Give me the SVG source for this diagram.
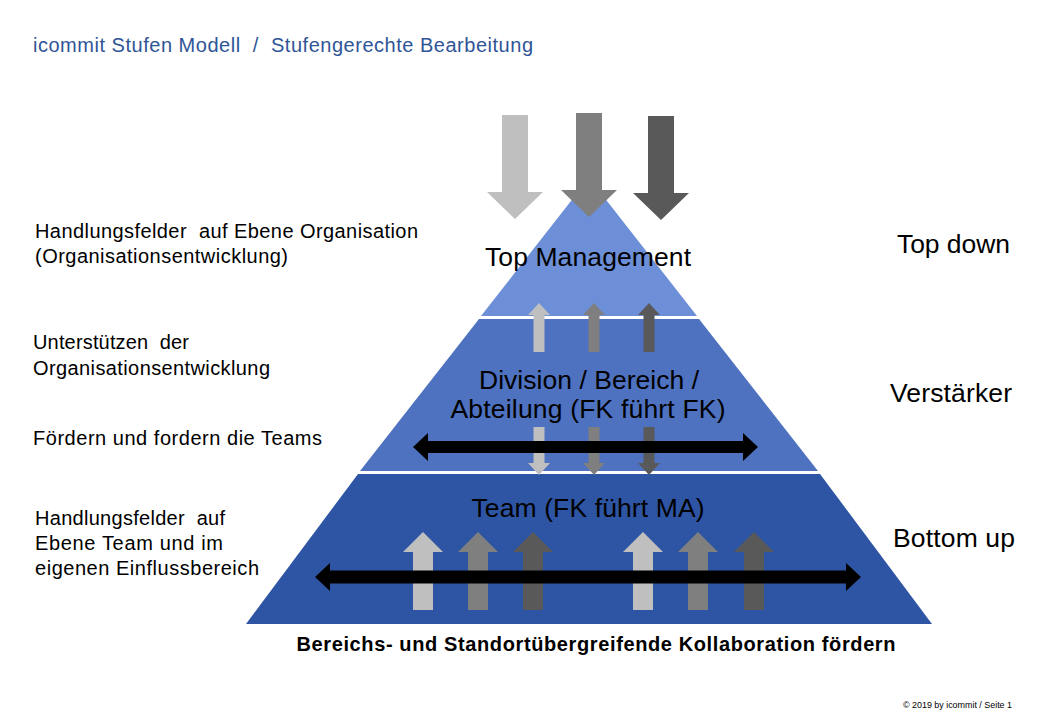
<svg xmlns="http://www.w3.org/2000/svg" width="1040" height="720" viewBox="0 0 1040 720">
<style>
text{font-family:"Liberation Sans",Arial,sans-serif;fill:#000}
.title{font-size:20px;fill:#2F5597}
.side{font-size:20px}
.right{font-size:26.5px}
.lvl{font-size:26.5px;text-anchor:middle}
.bold{font-size:20px;font-weight:bold;text-anchor:middle}
.copy{font-size:9.5px}
.g1{fill:#BFBFBF}.g2{fill:#7F7F7F}.g3{fill:#595959}
.dbl{fill:#000}
</style>
<defs>
<path id="bigDown" d="M-13,0 H13 V77 H28 L0,104 L-28,77 H-13 Z"/>
<path id="smallUp" d="M-5.5,49 V12 H-11 L0,0 L11,12 H5.5 V49 Z"/>
<path id="smallDown" d="M-5.5,0 V36 H-11 L0,48 L11,36 H5.5 V0 Z"/>
<path id="bigUp" d="M-10,78 V20 H-20 L0,0 L20,20 H10 V78 Z"/>
</defs>
<rect width="1040" height="720" fill="#fff"/>
<text class="title" x="33" y="52" textLength="500" lengthAdjust="spacing" xml:space="preserve">icommit Stufen Modell  /  Stufengerechte Bearbeitung</text>

<g id="level-top">
<polygon points="589,178 697,316 481,316" fill="#6C8FD7"/>
<text class="lvl" x="588" y="266" textLength="206" lengthAdjust="spacing">Top Management</text>
</g>
<g id="level-middle">
<polygon points="479,319 699,319 818,471 360,471" fill="#4E72C0"/>
<text class="lvl" x="589" y="389" textLength="220" lengthAdjust="spacing">Division / Bereich /</text>
<text class="lvl" x="588" y="418" textLength="275" lengthAdjust="spacing">Abteilung (FK führt FK)</text>
</g>
<g id="level-bottom">
<polygon points="358,474 820,474 932,624 246,624" fill="#2E55A4"/>
<text class="lvl" x="588" y="517" textLength="233" lengthAdjust="spacing">Team (FK führt MA)</text>
</g>

<g id="connectors">
<use href="#bigDown" class="g1" x="515" y="115"/>
<use href="#bigDown" class="g2" x="589" y="113"/>
<use href="#bigDown" class="g3" x="661" y="116"/>
<use href="#smallUp" class="g1" x="539" y="303"/>
<use href="#smallUp" class="g2" x="594" y="303"/>
<use href="#smallUp" class="g3" x="649" y="303"/>
<use href="#smallDown" class="g1" x="539" y="427"/>
<use href="#smallDown" class="g2" x="594" y="427"/>
<use href="#smallDown" class="g3" x="649" y="427"/>
<path class="dbl" d="M413,447 L428,433 V441 H743 V433 L758,447 L743,461 V453 H428 V461 Z"/>
<use href="#bigUp" class="g1" x="423" y="532"/>
<use href="#bigUp" class="g2" x="478" y="532"/>
<use href="#bigUp" class="g3" x="533" y="532"/>
<use href="#bigUp" class="g1" x="643" y="532"/>
<use href="#bigUp" class="g2" x="698" y="532"/>
<use href="#bigUp" class="g3" x="754" y="532"/>
<path class="dbl" d="M315,577 L330,563 V570.5 H846 V563 L861,577 L846,591 V583.5 H330 V591 Z"/>
</g>

<g id="labels-left">
<text class="side" x="35" y="238" textLength="383" lengthAdjust="spacing" xml:space="preserve">Handlungsfelder  auf Ebene Organisation</text>
<text class="side" x="35" y="263" textLength="253" lengthAdjust="spacing">(Organisationsentwicklung)</text>
<text class="side" x="33" y="349" textLength="156" lengthAdjust="spacing" xml:space="preserve">Unterstützen  der</text>
<text class="side" x="33" y="375" textLength="237" lengthAdjust="spacing">Organisationsentwicklung</text>
<text class="side" x="33" y="445" textLength="289" lengthAdjust="spacing">Fördern und fordern die Teams</text>
<text class="side" x="35" y="525" textLength="190" lengthAdjust="spacing" xml:space="preserve">Handlungsfelder  auf</text>
<text class="side" x="35" y="550" textLength="188" lengthAdjust="spacing">Ebene Team und im</text>
<text class="side" x="35" y="575" textLength="224" lengthAdjust="spacing">eigenen Einflussbereich</text>
</g>
<g id="labels-right">
<text class="right" x="897" y="253" textLength="113" lengthAdjust="spacing">Top down</text>
<text class="right" x="890" y="402" textLength="122" lengthAdjust="spacing">Verstärker</text>
<text class="right" x="893" y="547" textLength="122" lengthAdjust="spacing">Bottom up</text>
</g>
<text class="bold" x="596" y="651" textLength="599" lengthAdjust="spacing">Bereichs- und Standortübergreifende Kollaboration fördern</text>
<text class="copy" x="903" y="708" textLength="109" lengthAdjust="spacingAndGlyphs">© 2019 by icommit / Seite 1</text>
</svg>
